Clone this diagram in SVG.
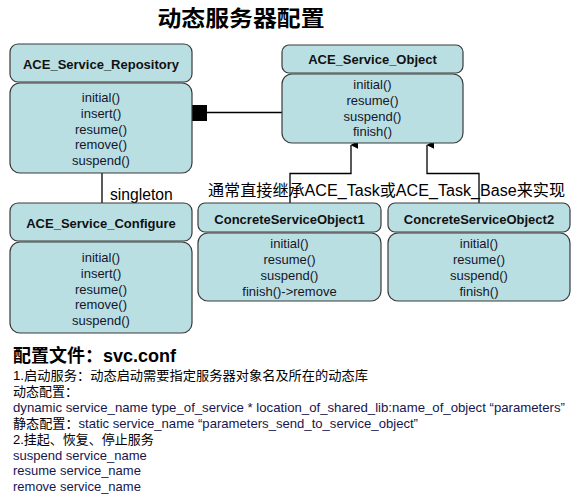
<svg xmlns="http://www.w3.org/2000/svg" width="578" height="502" viewBox="0 0 578 502">
<style>
.box{fill:#BADFE2;stroke:#3a3a3a;stroke-width:1.2}
.hd{font-family:"Liberation Sans","Noto Sans CJK SC",sans-serif;font-size:13px;font-weight:bold;fill:#111;text-anchor:middle}
.m{font-family:"Liberation Sans","Noto Sans CJK SC",sans-serif;font-size:13px;fill:#15152a;text-anchor:middle}
.ln{fill:none;stroke:#000;stroke-width:1.3}
.t{font-family:"Liberation Sans","Noto Sans CJK SC",sans-serif;font-size:13px;fill:#000}
.nv{fill:#16164e}
</style>
<defs>
<marker id="arr" markerWidth="8" markerHeight="8" refX="3.5" refY="0.5" orient="auto-start-reverse" markerUnits="userSpaceOnUse" viewBox="0 0 7 7">
<path d="M0,7 L3.5,0 L7,7 Z" fill="#000"/>
</marker>
</defs>
<rect width="578" height="502" fill="#fff"/>
<text x="241" y="26" font-family="'Noto Sans CJK SC',sans-serif" font-size="22" font-weight="bold" text-anchor="middle" fill="#000" textLength="167" lengthAdjust="spacingAndGlyphs">动态服务器配置</text>

<g id="connectors">
<rect x="192" y="105" width="15" height="16" fill="#000"/>
<line class="ln" x1="207" y1="112.5" x2="282" y2="112.5"/>
<line class="ln" x1="102" y1="173" x2="102" y2="203"/>
<path class="ln" d="M290,203 V173.5 H351 V145" marker-end="url(#arr)"/>
<path class="ln" d="M479,203 V173.5 H427 V145" marker-end="url(#arr)"/>
</g>

<text x="110" y="200" font-family="'Liberation Sans',sans-serif" font-size="15.7" fill="#000">singleton</text>
<text x="208" y="196" font-family="'Liberation Sans','Noto Sans CJK SC',sans-serif" font-size="16" fill="#000" textLength="357" lengthAdjust="spacingAndGlyphs">通常直接继承ACE_Task或ACE_Task_Base来实现</text>

<g id="repository">
<rect class="box" x="10" y="44" width="182" height="38" rx="8"/>
<rect class="box" x="10" y="83" width="182" height="90" rx="10"/>
<text class="hd" x="101" y="69">ACE_Service_Repository</text>
<text class="m" x="101" y="102">initial()</text>
<text class="m" x="101" y="118">insert()</text>
<text class="m" x="101" y="134">resume()</text>
<text class="m" x="101" y="149">remove()</text>
<text class="m" x="101" y="165">suspend()</text>
</g>

<g id="service_object">
<rect class="box" x="282" y="45" width="181" height="28" rx="7"/>
<rect class="box" x="282" y="74" width="181" height="69" rx="10"/>
<text class="hd" x="372.5" y="64">ACE_Service_Object</text>
<text class="m" x="372.5" y="89">initial()</text>
<text class="m" x="372.5" y="105">resume()</text>
<text class="m" x="372.5" y="121">suspend()</text>
<text class="m" x="372.5" y="136">finish()</text>
</g>

<g id="configure">
<rect class="box" x="10" y="203" width="182" height="38" rx="8"/>
<rect class="box" x="10" y="242" width="182" height="91" rx="10"/>
<text class="hd" x="101" y="227.5">ACE_Service_Configure</text>
<text class="m" x="101" y="261.5">initial()</text>
<text class="m" x="101" y="277.5">insert()</text>
<text class="m" x="101" y="293.5">resume()</text>
<text class="m" x="101" y="308.5">remove()</text>
<text class="m" x="101" y="324.5">suspend()</text>
</g>

<g id="concrete1">
<rect class="box" x="198" y="203" width="183" height="29" rx="7"/>
<rect class="box" x="198" y="233" width="183" height="68" rx="10"/>
<text class="hd" x="289.5" y="224">ConcreteServiceObject1</text>
<text class="m" x="289.5" y="248">initial()</text>
<text class="m" x="289.5" y="264">resume()</text>
<text class="m" x="289.5" y="280">suspend()</text>
<text class="m" x="289.5" y="296">finish()-&gt;remove</text>
</g>

<g id="concrete2">
<rect class="box" x="388" y="203" width="182" height="29" rx="7"/>
<rect class="box" x="388" y="233" width="182" height="68" rx="10"/>
<text class="hd" x="479" y="224">ConcreteServiceObject2</text>
<text class="m" x="479" y="248">initial()</text>
<text class="m" x="479" y="264">resume()</text>
<text class="m" x="479" y="280">suspend()</text>
<text class="m" x="479" y="296">finish()</text>
</g>

<g id="notes">
<text x="13" y="362" font-family="'Liberation Sans','Noto Sans CJK SC',sans-serif" font-size="18" font-weight="bold" fill="#000">配置文件：svc.conf</text>
<text class="t" x="13" y="380" textLength="355" lengthAdjust="spacingAndGlyphs">1.启动服务：动态启动需要指定服务器对象名及所在的动态库</text>
<text class="t" x="13" y="396">动态配置：</text>
<text class="t nv" x="13" y="411.5" textLength="552" lengthAdjust="spacingAndGlyphs">dynamic service_name type_of_service * location_of_shared_lib:name_of_object “parameters”</text>
<text class="t" x="13" y="428" textLength="405" lengthAdjust="spacingAndGlyphs">静态配置：<tspan class="nv">static service_name “parameters_send_to_service_object”</tspan></text>
<text class="t" x="13" y="444">2.挂起、恢复、停止服务</text>
<text class="t nv" x="13" y="459.5">suspend service_name</text>
<text class="t nv" x="13" y="475">resume service_name</text>
<text class="t nv" x="13" y="491">remove service_name</text>
</g>
</svg>
